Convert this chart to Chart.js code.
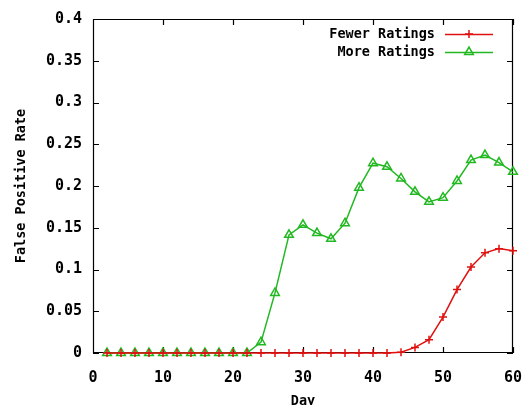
<!DOCTYPE html>
<html>
<head>
<meta charset="utf-8">
<script src="https://cdn.jsdelivr.net/npm/chart.js@4"></script>
<style>
  html, body { margin: 0; padding: 0; background: #fff; }
</style>
</head>
<body>
<canvas id="fpr" width="526" height="405"></canvas>
<script>
const days = [2, 4, 6, 8, 10, 12, 14, 16, 18, 20, 22, 24, 26, 28, 30,
  32, 34, 36, 38, 40, 42, 44, 46, 48, 50, 52, 54, 56, 58, 60];

const fewerRatings = [0, 0, 0, 0, 0, 0, 0, 0, 0, 0, 0, 0, 0, 0, 0,
  0, 0, 0, 0, 0, 0, 0.001, 0.0067, 0.016, 0.043, 0.076, 0.103, 0.12, 0.125, 0.1225];

const moreRatings = [0, 0, 0, 0, 0, 0, 0, 0, 0, 0, 0, 0.013, 0.072, 0.1415, 0.1535,
  0.1436, 0.1368, 0.1555, 0.198, 0.2273, 0.223, 0.209, 0.193, 0.181, 0.186, 0.206, 0.231, 0.237, 0.228, 0.217];

const seriesNames = ["Fewer Ratings", "More Ratings"];
const xTicks = [0, 10, 20, 30, 40, 50, 60];
const yTicks = [0, 0.05, 0.1, 0.15, 0.2, 0.25, 0.3, 0.35, 0.4];

const RED = "#e01010";
const GREEN = "#22b822";
const FONT = "'DejaVu Sans Mono', monospace";

const toPoints = (values) => values.map((v, i) => ({ x: days[i], y: v }));

// gnuplot-style frame with inward ticks on all four sides
const framePlugin = {
  id: "frame",
  beforeDatasetsDraw(chart) {
    const { ctx, chartArea: a, scales } = chart;
    const len = 6;
    ctx.save();
    ctx.strokeStyle = "#000";
    ctx.lineWidth = 1.2;
    ctx.beginPath();
    ctx.rect(a.left + 0.5, a.top + 0.5, a.right - a.left - 1, a.bottom - a.top - 1);
    xTicks.forEach((t) => {
      const px = Math.round(scales.x.getPixelForValue(t)) + 0.5;
      ctx.moveTo(px, a.bottom);
      ctx.lineTo(px, a.bottom - len);
      ctx.moveTo(px, a.top);
      ctx.lineTo(px, a.top + len);
    });
    yTicks.forEach((t) => {
      const py = Math.round(scales.y.getPixelForValue(t)) + 0.5;
      ctx.moveTo(a.left, py);
      ctx.lineTo(a.left + len, py);
      ctx.moveTo(a.right, py);
      ctx.lineTo(a.right - len, py);
    });
    ctx.stroke();
    ctx.restore();
  },
};

// legend: text right aligned, sample line with marker on its right
const keyPlugin = {
  id: "key",
  afterDraw(chart) {
    const { ctx } = chart;
    const textRight = 435;
    const lineLeft = 445;
    const lineRight = 493;
    const rows = [34, 52];
    ctx.save();
    ctx.font = "bold 13.5px " + FONT;
    ctx.textAlign = "right";
    ctx.textBaseline = "middle";
    chart.data.datasets.forEach((ds, i) => {
      const y = rows[i];
      ctx.fillStyle = "#000";
      ctx.fillText(ds.label, textRight, y);
      ctx.strokeStyle = ds.borderColor;
      ctx.lineWidth = ds.borderWidth;
      ctx.beginPath();
      ctx.moveTo(lineLeft, y + 0.5);
      ctx.lineTo(lineRight, y + 0.5);
      ctx.stroke();
      ctx.fillStyle = "rgba(0,0,0,0)";
      Chart.helpers.drawPoint(ctx, {
        pointStyle: ds.pointStyle,
        radius: ds.pointRadius,
        borderWidth: ds.pointBorderWidth,
        rotation: 0,
      }, (lineLeft + lineRight) / 2, y);
    });
    ctx.restore();
  },
};

const ctx = document.getElementById("fpr").getContext("2d");

new Chart(ctx, {
  type: "line",
  data: {
    datasets: [
      {
        label: seriesNames[0],
        data: toPoints(fewerRatings),
        borderColor: RED,
        backgroundColor: "rgba(0,0,0,0)",
        borderWidth: 1.5,
        pointStyle: "cross",
        pointRadius: 4,
        pointBorderWidth: 1.5,
        tension: 0,
        clip: false,
      },
      {
        label: seriesNames[1],
        data: toPoints(moreRatings),
        borderColor: GREEN,
        backgroundColor: "rgba(0,0,0,0)",
        borderWidth: 1.5,
        pointStyle: "triangle",
        pointRadius: 5,
        pointBorderWidth: 1.5,
        tension: 0,
        clip: false,
      },
    ],
  },
  options: {
    responsive: false,
    animation: false,
    events: [],
    layout: { padding: { top: 19, right: 0, left: 0, bottom: 0 } },
    plugins: {
      legend: { display: false },
      tooltip: { enabled: false },
    },
    scales: {
      x: {
        type: "linear",
        min: 0,
        max: 60,
        afterFit: (s) => { s.height = 52; s.paddingRight = 13; },
        afterBuildTicks: (s) => { s.ticks = xTicks.map((v) => ({ value: v })); },
        grid: { display: false },
        border: { display: false },
        ticks: {
          padding: 8,
          maxRotation: 0,
          color: "#000",
          font: { family: FONT, size: 15, weight: "bold" },
        },
        title: {
          display: true,
          text: "Day",
          color: "#000",
          padding: { top: 0, bottom: -5 },
          font: { family: FONT, size: 13.5, weight: "bold" },
        },
      },
      y: {
        type: "linear",
        min: 0,
        max: 0.4,
        afterFit: (s) => { s.width = 93; s.paddingTop = 0; },
        afterBuildTicks: (s) => { s.ticks = yTicks.map((v) => ({ value: v })); },
        grid: { display: false },
        border: { display: false },
        ticks: {
          padding: 3,
          color: "#000",
          font: { family: FONT, size: 15, weight: "bold" },
          callback: (v) => String(Math.round(v * 100) / 100),
        },
        title: {
          display: true,
          text: "False Positive Rate",
          color: "#000",
          padding: { top: 13, bottom: 0 },
          font: { family: FONT, size: 13.5, weight: "bold" },
        },
      },
    },
  },
  plugins: [framePlugin, keyPlugin],
});
</script>
</body>
</html>
